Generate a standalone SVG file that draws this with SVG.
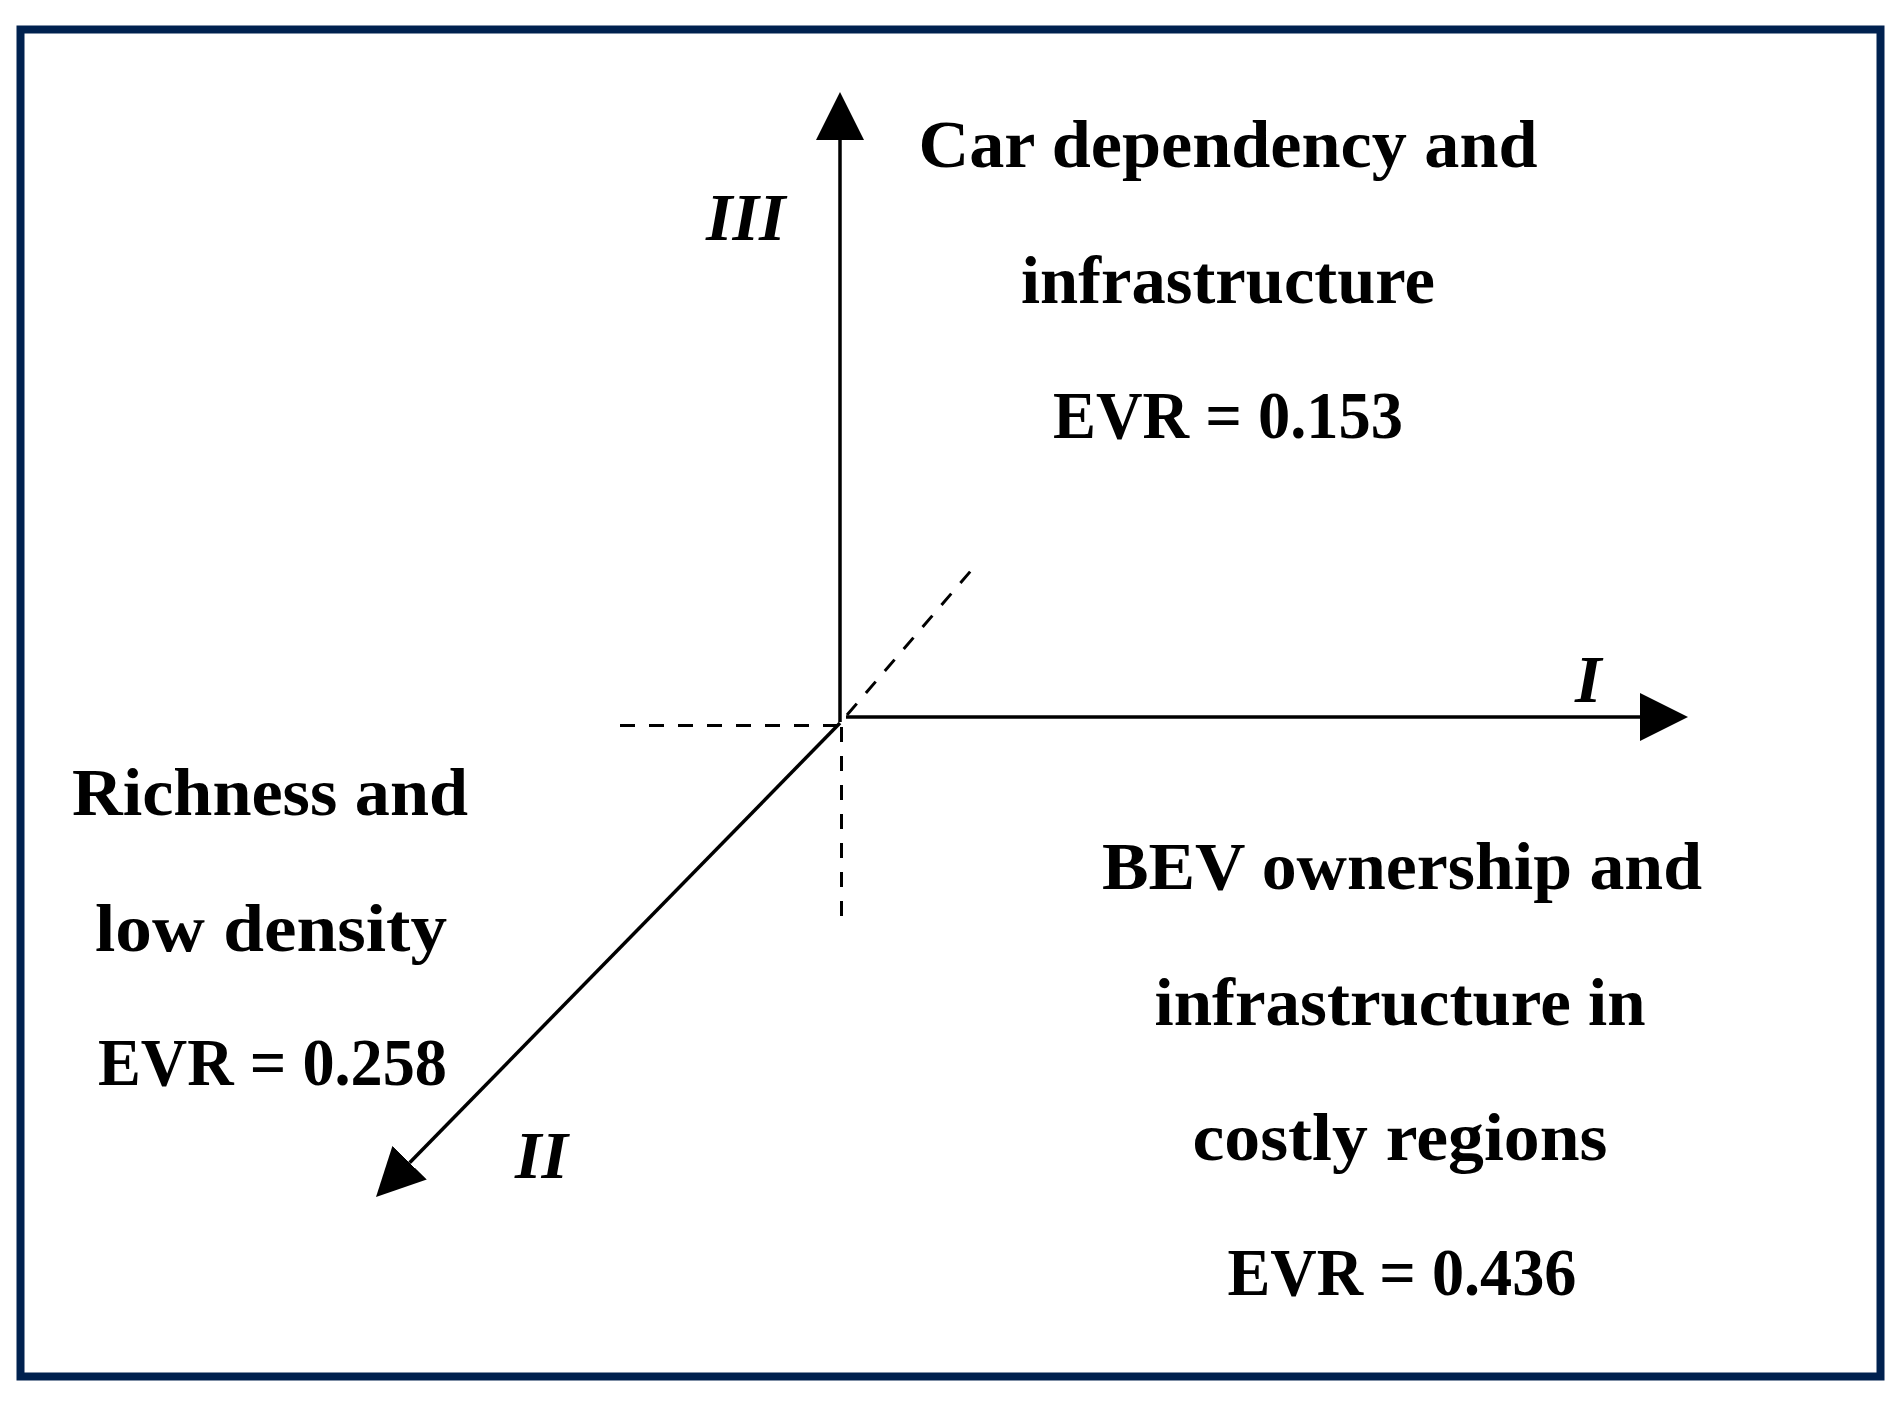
<svg xmlns="http://www.w3.org/2000/svg" width="1902" height="1404" viewBox="0 0 1902 1404">
<defs>
<style>
.lbl{font-family:"Liberation Serif","Times New Roman",serif;font-weight:bold;font-size:67px;fill:#000;}
.ax{font-family:"Liberation Serif","Times New Roman",serif;font-weight:bold;font-style:italic;font-size:68px;fill:#000;}
.axis{stroke:#000;stroke-width:3.5;fill:none;}
.dash{stroke:#000;stroke-width:3;fill:none;stroke-dasharray:15 14;}
</style>
<marker id="arrow" viewBox="0 0 48 48" markerWidth="48" markerHeight="48" refX="0" refY="24" orient="auto" markerUnits="userSpaceOnUse">
<path d="M0,0 L48,24 L0,48 Z" fill="#000"/>
</marker>
</defs>
<rect x="0" y="0" width="1902" height="1404" fill="#fff"/>
<rect id="frame" x="20.5" y="29.5" width="1860" height="1347" fill="none" stroke="#00214f" stroke-width="8"/>
<g id="connectors">
<line class="axis" x1="840" y1="722" x2="840" y2="140" marker-end="url(#arrow)"/>
<line class="axis" x1="846" y1="717" x2="1640" y2="717" marker-end="url(#arrow)"/>
<line class="axis" x1="840" y1="723" x2="409.6" y2="1162.7" marker-end="url(#arrow)"/>
<line class="dash" x1="847" y1="715" x2="975" y2="566"/>
<line class="dash" x1="620" y1="725.5" x2="838" y2="725.5"/>
<line class="dash" x1="841.5" y1="727" x2="841.5" y2="917"/>
</g>
<g id="axis-I"><text class="ax" x="1575" y="702">I</text></g>
<g id="axis-II"><text class="ax" x="515" y="1178">II</text></g>
<g id="axis-III"><text class="ax" x="706" y="240">III</text></g>
<g id="node-car">
<text class="lbl" x="1228" y="167" text-anchor="middle" textLength="619" lengthAdjust="spacingAndGlyphs">Car dependency and</text>
<text class="lbl" x="1228" y="303" text-anchor="middle" textLength="414" lengthAdjust="spacingAndGlyphs">infrastructure</text>
<text class="lbl" x="1228" y="438" text-anchor="middle" textLength="350" lengthAdjust="spacingAndGlyphs">EVR = 0.153</text>
</g>
<g id="node-rich">
<text class="lbl" x="270" y="815" text-anchor="middle" textLength="396" lengthAdjust="spacingAndGlyphs">Richness and</text>
<text class="lbl" x="271" y="951" text-anchor="middle" textLength="352" lengthAdjust="spacingAndGlyphs">low density</text>
<text class="lbl" x="272.5" y="1085" text-anchor="middle" textLength="349" lengthAdjust="spacingAndGlyphs">EVR = 0.258</text>
</g>
<g id="node-bev">
<text class="lbl" x="1402" y="889" text-anchor="middle" textLength="600" lengthAdjust="spacingAndGlyphs">BEV ownership and</text>
<text class="lbl" x="1400" y="1025" text-anchor="middle" textLength="491" lengthAdjust="spacingAndGlyphs">infrastructure in</text>
<text class="lbl" x="1400" y="1160" text-anchor="middle" textLength="415" lengthAdjust="spacingAndGlyphs">costly regions</text>
<text class="lbl" x="1402" y="1295" text-anchor="middle" textLength="349" lengthAdjust="spacingAndGlyphs">EVR = 0.436</text>
</g>
</svg>
